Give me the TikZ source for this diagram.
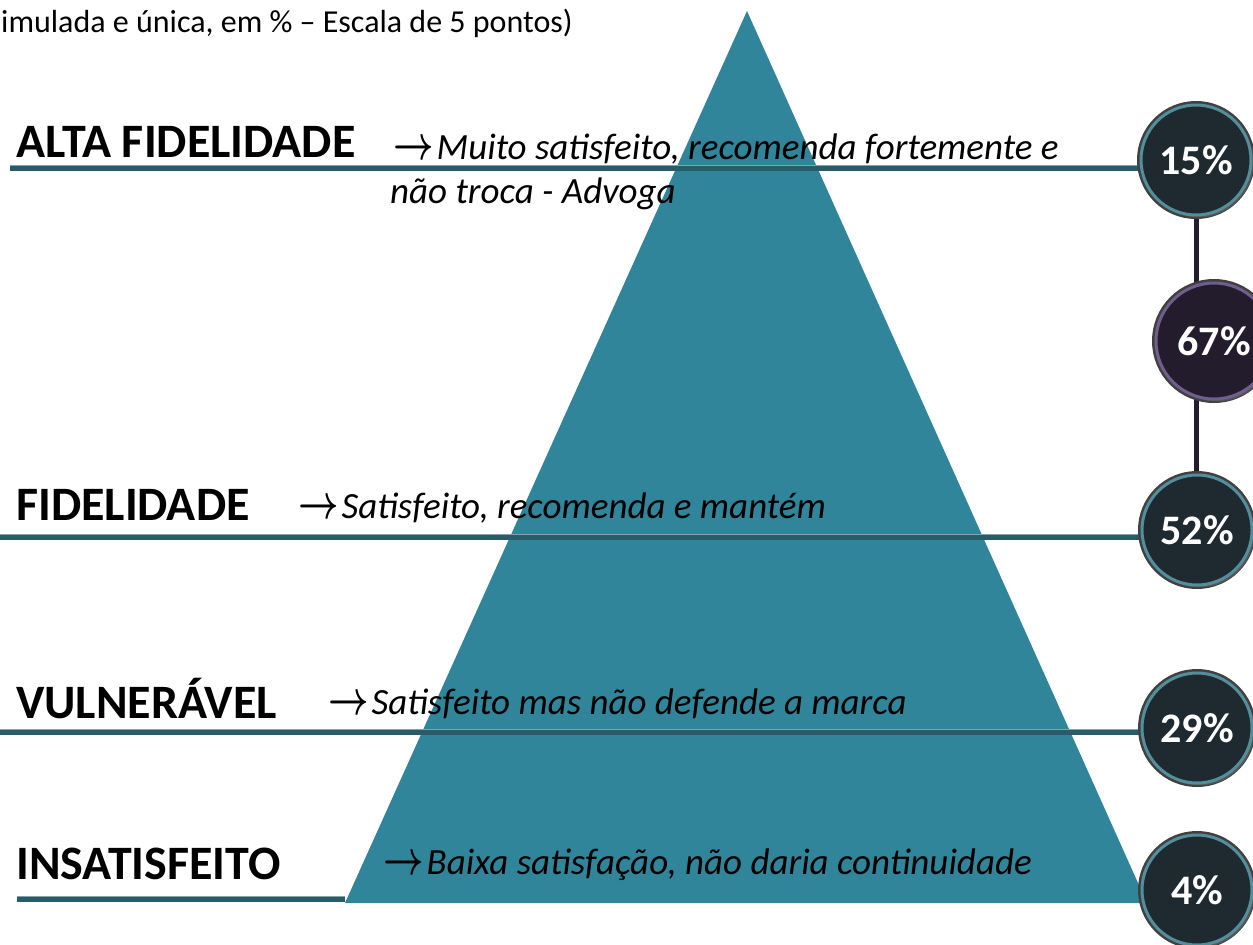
\RequirePackage{fix-cm}
\documentclass[tikz,border=0pt]{standalone}
\usepackage{fontspec}
\setmainfont{Carlito}
\usepackage{graphicx}
\usepackage{tikz}
\usetikzlibrary{backgrounds, shadows}

\definecolor{pyramid}{RGB}{49,133,155}
\definecolor{barcore}{RGB}{40,92,104}
\definecolor{baredge}{RGB}{130,165,172}
\definecolor{disc}{RGB}{30,42,47}
\definecolor{ring}{RGB}{82,142,155}
\definecolor{discmid}{RGB}{35,28,44}
\definecolor{ringmid}{RGB}{112,94,142}
\definecolor{stemcol}{RGB}{35,28,46}

\newcommand{\goesto}{\scalebox{0.95}[1.3]{\boldmath$\rightarrow$}\kern3pt}

\begin{document}
\begin{tikzpicture}[
            x = 1pt, y = -1pt, % pixel units, y runs down
            bar/.style = {draw = baredge, line width = 0.8pt,
                double = barcore, double distance = 5pt}, % level lines
            stem/.style = {draw = stemcol, line width = 5pt},
            tag/.style = {inner sep = 0pt, anchor = base west,
                font = \fontsize{48}{50}\selectfont\bfseries},
            note/.style = {inner sep = 0pt, anchor = base west,
                font = \fontsize{37}{40}\selectfont\itshape},
            pct/.style = {circle, fill = disc, draw = ring, line width = 3pt,
                preaction = {draw = black!75, line width = 8pt},
                drop shadow = {opacity = 0.35},
                minimum size = 110pt, text = white,
                font = \fontsize{42}{44}\selectfont\bfseries}
        ]

        \useasboundingbox (0,0) rectangle (1253,945);

        \coordinate (apex) at (747,11);
        \coordinate (bl) at (345,903);
        \coordinate (br) at (1147,903);

        \coordinate (l1) at (10,168);
        \coordinate (l2) at (0,537);
        \coordinate (l3) at (0,732);
        \coordinate (l4) at (17,899);

        \node[inner sep = 0pt, anchor = base west,
              font = \fontsize{32}{34}\selectfont] (head) at (1,32)
              {imulada e única, em \% – Escala de 5 pontos)};

        % percentages
        \node[pct] (c15) at (1196,160) {15\%};
        \node[pct, fill = discmid, draw = ringmid, minimum size = 116pt] (c67) at (1214,341) {67\%};
        \node[pct] (c52) at (1197,530) {52\%};
        \node[pct] (c29) at (1197,728) {29\%};
        \node[pct] (c4) at (1197,890) {4\%};

        % levels
        \node[tag] (alta) at (16,157) {ALTA FIDELIDADE};
        \node[note] (alta1) at (393,159) {\goesto Muito satisfeito, recomenda fortemente e};
        \node[note] (alta2) at (390,203) {não troca - Advoga};

        \node[tag] (fid) at (16,520) {FIDELIDADE};
        \node[note] (fid1) at (298,518) {\goesto Satisfeito, recomenda e mantém};

        \node[tag] (vul) at (16,718) {VULNERÁVEL};
        \node[note] (vul1) at (328,714) {\goesto Satisfeito mas não defende a marca};

        \node[tag] (ins) at (16,879) {INSATISFEITO};
        \node[note] (ins1) at (383,874) {\goesto Baixa satisfação, não daria continuidade};

        \begin{pgfonlayer}{background}
            \fill[pyramid] (apex) -- (bl) -- (br) -- cycle;
            \draw[bar] (l1) -- (l1 -| c15);
            \draw[bar] (l2) -- (l2 -| c52);
            \draw[bar] (l3) -- (l3 -| c29);
            \draw[bar] (l4) -- (l4 -| bl);
            \draw[stem] (c15) -- (c15 |- c52);
        \end{pgfonlayer}

    \end{tikzpicture}
\end{document}
